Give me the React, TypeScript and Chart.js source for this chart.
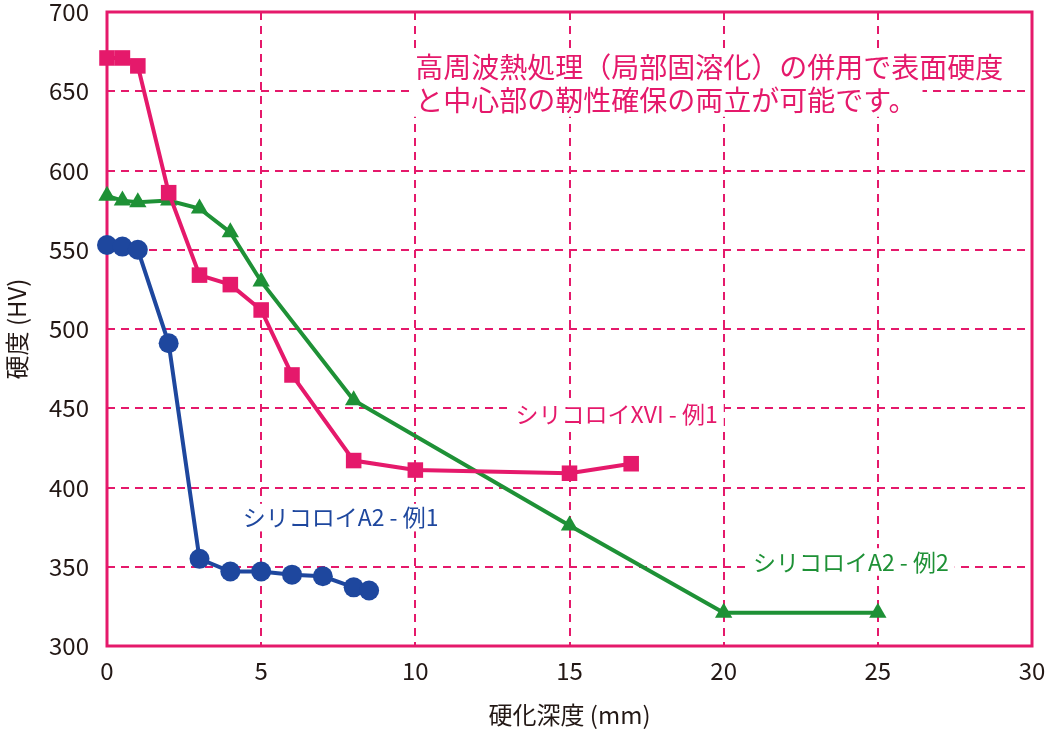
import React, { useEffect, useRef } from "react";
import { Chart, registerables } from "chart.js";

Chart.register(...registerables);

const xTicks = [0, 5, 10, 15, 20, 25, 30];
const yTicks = [300, 350, 400, 450, 500, 550, 600, 650, 700];

const xviDepth = [0, 0.5, 1, 2, 3, 4, 5, 6, 8, 10, 15, 17];
const xviHardness = [671, 671, 666, 586, 534, 528, 512, 471, 417, 411, 409, 415];

const a2ex2Depth = [0, 0.5, 1, 2, 3, 4, 5, 8, 15, 20, 25];
const a2ex2Hardness = [584, 581, 580, 581, 576, 561, 530, 455, 376, 321, 321];

const a2ex1Depth = [0, 0.5, 1, 2, 3, 4, 5, 6, 7, 8, 8.5];
const a2ex1Hardness = [553, 552, 550, 491, 355, 347, 347, 345, 344, 337, 335];

const seriesNames = ["シリコロイXVI - 例1", "シリコロイA2 - 例2", "シリコロイA2 - 例1"];
const noteLines = ["高周波熱処理（局部固溶化）の併用で表面硬度", "と中心部の靭性確保の両立が可能です。"];

const PINK = "#E5196B";
const GREEN = "#1E9136";
const BLUE = "#1E479E";
const DARK = "#231815";
const FONT = "'Noto Sans CJK JP', 'Noto Sans', sans-serif";
const DASH = [8, 6];

const labelPlacement = [
  { text: seriesNames[0], x: 13.25, y: 446, color: PINK, size: 23 },
  { text: seriesNames[1], x: 20.95, y: 353, color: GREEN, size: 23 },
  { text: seriesNames[2], x: 4.4, y: 381, color: BLUE, size: 23 },
  { text: noteLines[0], x: 10.0, y: 665, color: PINK, size: 28 },
  { text: noteLines[1], x: 10.0, y: 644.5, color: PINK, size: 28 },
];

const textPlugin = {
  id: "annotText",
  beforeDatasetsDraw(chart: any) {
    const { ctx, scales } = chart;
    ctx.save();
    labelPlacement.forEach((l) => {
      ctx.font = `${l.size}px ${FONT}`;
      ctx.textBaseline = "middle";
      ctx.textAlign = "left";
      const px = scales.x.getPixelForValue(l.x);
      const py = scales.y.getPixelForValue(l.y);
      const w = ctx.measureText(l.text).width;
      ctx.fillStyle = "#ffffff";
      ctx.fillRect(px - 6, py - l.size * 0.6, w + 12, l.size * 1.2);
    });
    labelPlacement.forEach((l) => {
      ctx.font = `${l.size}px ${FONT}`;
      ctx.textBaseline = "middle";
      ctx.textAlign = "left";
      const px = scales.x.getPixelForValue(l.x);
      const py = scales.y.getPixelForValue(l.y);
      ctx.fillStyle = l.color;
      ctx.fillText(l.text, px, py);
    });
    ctx.restore();
  },
};

const framePlugin = {
  id: "frame",
  beforeDatasetsDraw(chart: any) {
    const { ctx, chartArea } = chart;
    ctx.save();
    ctx.strokeStyle = PINK;
    ctx.lineWidth = 3;
    ctx.setLineDash([]);
    ctx.strokeRect(chartArea.left, chartArea.top, chartArea.right - chartArea.left, chartArea.bottom - chartArea.top);
    ctx.restore();
  },
};

function toPoints(xs: number[], ys: number[]) {
  return xs.map((x, i) => ({ x, y: ys[i] }));
}

export default function App() {
  const ref = useRef<HTMLCanvasElement>(null);
  useEffect(() => {
    document.body.style.margin = "0";
    const chart = new Chart(ref.current!, {
      type: "scatter",
      data: {
        datasets: [
          {
            label: seriesNames[0],
            data: toPoints(xviDepth, xviHardness),
            showLine: true,
            clip: false,
            borderColor: PINK,
            backgroundColor: PINK,
            borderWidth: 4,
            pointStyle: "rect",
            pointRadius: 11,
            pointBorderWidth: 0,
          },
          {
            label: seriesNames[1],
            data: toPoints(a2ex2Depth, a2ex2Hardness),
            showLine: true,
            clip: false,
            borderColor: GREEN,
            backgroundColor: GREEN,
            borderWidth: 4,
            pointStyle: "triangle",
            pointRadius: 10,
            pointBorderWidth: 0,
          },
          {
            label: seriesNames[2],
            data: toPoints(a2ex1Depth, a2ex1Hardness),
            showLine: true,
            clip: false,
            borderColor: BLUE,
            backgroundColor: BLUE,
            borderWidth: 4,
            pointStyle: "circle",
            pointRadius: 10,
            pointBorderWidth: 0,
          },
        ],
      },
      options: {
        animation: false,
        responsive: false,
        layout: { padding: { top: 12, right: 23, left: 0, bottom: 0 } },
        plugins: { legend: { display: false }, tooltip: { enabled: false } },
        scales: {
          x: {
            type: "linear",
            min: 0,
            max: 30,
            afterBuildTicks: (s: any) => {
              s.ticks = xTicks.map((v) => ({ value: v }));
            },
            afterFit: (s: any) => {
              s.height = 95;
              s.paddingLeft = 0;
              s.paddingRight = 0;
            },
            grid: {
              color: (c: any) => (c.tick && (c.tick.value === 0 || c.tick.value === 30) ? "rgba(0,0,0,0)" : PINK),
              lineWidth: 2,
              drawTicks: false,
            },
            border: { display: false, dash: DASH },
            ticks: { color: DARK, font: { family: FONT, size: 24 }, padding: 10 },
            title: {
              display: true,
              text: "硬化深度 (mm)",
              color: DARK,
              font: { family: FONT, size: 24 },
              padding: { top: 0, bottom: 12 },
            },
          },
          y: {
            type: "linear",
            min: 300,
            max: 700,
            afterBuildTicks: (s: any) => {
              s.ticks = yTicks.map((v) => ({ value: v }));
            },
            afterFit: (s: any) => {
              s.width = 107;
              s.paddingTop = 0;
              s.paddingBottom = 0;
            },
            grid: {
              color: (c: any) => (c.tick && (c.tick.value === 300 || c.tick.value === 700) ? "rgba(0,0,0,0)" : PINK),
              lineWidth: 2,
              drawTicks: false,
            },
            border: { display: false, dash: DASH },
            ticks: { color: DARK, font: { family: FONT, size: 24 }, padding: 18 },
            title: {
              display: true,
              text: "硬度 (HV)",
              color: DARK,
              font: { family: FONT, size: 24 },
              padding: { top: 2, bottom: 0 },
            },
          },
        },
      },
      plugins: [framePlugin, textPlugin],
    } as any);
    return () => chart.destroy();
  }, []);
  return (
    <div style={{ position: "fixed", left: 0, top: 0, width: 1055, height: 741, background: "#fff" }}>
      <canvas ref={ref} width={1055} height={741} style={{ width: 1055, height: 741 }} />
    </div>
  );
}
